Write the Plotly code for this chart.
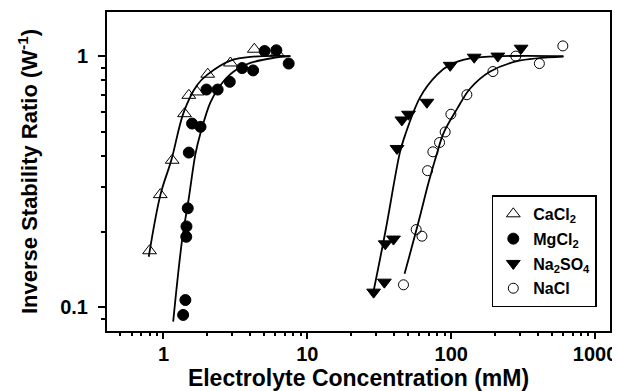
import plotly.graph_objects as go
import math

# ---- measured data ----
cacl2_x = [0.80, 0.95, 1.15, 1.40, 1.50, 1.71, 2.03, 2.92, 4.28, 6.16]
cacl2_y = [0.168, 0.281, 0.385, 0.59, 0.698, 0.72, 0.847, 0.939, 1.065, 1.03]

mgcl2_x = [1.37, 1.42, 1.44, 1.445, 1.475, 1.50, 1.58, 1.81, 1.99, 2.38, 2.89, 3.52, 4.20, 5.05, 6.09, 7.42]
mgcl2_y = [0.0933, 0.107, 0.191, 0.21, 0.248, 0.413, 0.539, 0.523, 0.736, 0.736, 0.79, 0.896, 0.877, 1.048, 1.055, 0.934]

na2so4_x = [28.9, 34.3, 34.8, 39.7, 42.0, 45.4, 50.5, 67.8, 98.4, 144.5, 211, 306]
na2so4_y = [0.115, 0.126, 0.179, 0.187, 0.429, 0.557, 0.587, 0.655, 0.919, 0.99, 1.0, 1.075]

nacl_x = [46.6, 57.1, 62.6, 68.5, 74.6, 83.0, 90.8, 99.5, 128.5, 195, 281, 410, 597]
nacl_y = [0.123, 0.204, 0.192, 0.35, 0.416, 0.453, 0.499, 0.587, 0.702, 0.868, 1.0, 0.934, 1.098]

# ---- fitted curves ----
cacl2_fit_x = [0.79, 0.953, 1.136, 1.38, 1.71, 2.01, 2.92, 4.22, 7.62]
cacl2_fit_y = [0.159, 0.281, 0.387, 0.596, 0.766, 0.842, 0.960, 0.995, 1.0]

mgcl2_fit_x = [1.168, 1.35, 1.50, 1.67, 1.81, 2.12, 2.49, 3.08, 4.02, 5.84, 7.62]
mgcl2_fit_y = [0.0877, 0.187, 0.272, 0.409, 0.494, 0.655, 0.766, 0.868, 0.939, 0.984, 1.0]

na2so4_fit_x = [28.6, 34.8, 43.8, 46.6, 60.9, 79.5, 98.4, 135.5, 231, 603]
na2so4_fit_y = [0.113, 0.199, 0.409, 0.464, 0.687, 0.842, 0.925, 0.979, 1.0, 1.0]

nacl_fit_x = [47.4, 59.3, 69.6, 79.5, 88.5, 109.6, 135.5, 186.6, 286, 603]
nacl_fit_y = [0.136, 0.219, 0.314, 0.409, 0.494, 0.615, 0.743, 0.868, 0.954, 0.995]

legend_names = ["CaCl<sub>2</sub>", "MgCl<sub>2</sub>", "Na<sub>2</sub>SO<sub>4</sub>", "NaCl"]

x_major = [1, 10, 100, 1000]
x_minor = [0.5, 0.6, 0.7, 0.8, 0.9] + [k * 10 ** d for d in range(0, 3) for k in range(2, 10)]
y_major = [0.1, 1]
y_minor = [0.09] + [k / 10 for k in range(2, 10)]

FONT = "Liberation Sans, Arial, sans-serif"

fig = go.Figure()

def add_fit(x, y):
    fig.add_trace(go.Scatter(x=x, y=y, mode="lines", line=dict(color="black", width=1.8, shape="spline", smoothing=1.0),
                             showlegend=False, hoverinfo="skip"))

add_fit(cacl2_fit_x, cacl2_fit_y)
add_fit(mgcl2_fit_x, mgcl2_fit_y)
add_fit(na2so4_fit_x, na2so4_fit_y)
add_fit(nacl_fit_x, nacl_fit_y)

series = [
    (cacl2_x, cacl2_y, "triangle-up-open", 12, legend_names[0]),
    (mgcl2_x, mgcl2_y, "circle", 11, legend_names[1]),
    (na2so4_x, na2so4_y, "triangle-down", 12, legend_names[2]),
    (nacl_x, nacl_y, "circle-open", 10, legend_names[3]),
]
for i, (x, y, sym, sz, nm) in enumerate(series):
    fig.add_trace(go.Scatter(x=x, y=y, mode="markers", name=nm, legendgroup=f"g{i}",
                             marker=dict(symbol=sym, size=sz, color="black", line=dict(color="black", width=1))))

# the page body adds an 8px offset, so the figure is 612x383
fig.update_layout(
    width=612, height=383,
    margin=dict(l=99, r=10, t=4, b=60, autoexpand=False),
    paper_bgcolor="white", plot_bgcolor="white",
    font=dict(family=FONT, color="black", size=20, weight="bold"),
    showlegend=True,
    legend=dict(x=0.765, y=0.425, xanchor="left", yanchor="top",
                bordercolor="black", borderwidth=1.5, bgcolor="white",
                font=dict(family=FONT, size=16, weight="bold", color="black"),
                traceorder="grouped", tracegroupgap=1),
)

fig.update_xaxes(
    type="log", range=[math.log10(0.405), math.log10(1270)], automargin=False,
    showline=True, linecolor="black", linewidth=2, mirror=True,
    showgrid=False, zeroline=False,
    tickmode="array", tickvals=x_major, ticktext=[str(v) for v in x_major],
    ticks="outside", ticklen=6, tickwidth=1.5, tickcolor="black", ticklabelstandoff=-2,
    tickfont=dict(family=FONT, size=20, weight="bold"),
    minor=dict(tickmode="array", tickvals=x_minor, ticks="outside", ticklen=3, tickwidth=1.5, tickcolor="black", showgrid=False),
    title=dict(text="Electrolyte Concentration (mM)", font=dict(family=FONT, size=23, weight="bold"), standoff=13),
)
fig.update_yaxes(
    type="log", range=[-1.094, 0.1755], automargin=False,
    showline=True, linecolor="black", linewidth=2, mirror=True,
    showgrid=False, zeroline=False,
    tickmode="array", tickvals=y_major, ticktext=["0.1", "1"],
    ticks="outside", ticklen=7, tickwidth=1.5, tickcolor="black", ticklabelstandoff=6,
    tickfont=dict(family=FONT, size=20, weight="bold"),
    minor=dict(tickmode="array", tickvals=y_minor, ticks="outside", ticklen=4, tickwidth=1.5, tickcolor="black", showgrid=False),
    title=dict(text="Inverse Stability Ratio (W<sup>-1</sup>)", font=dict(family=FONT, size=22, weight="bold"), standoff=16),
)

fig.write_html("out.html")
